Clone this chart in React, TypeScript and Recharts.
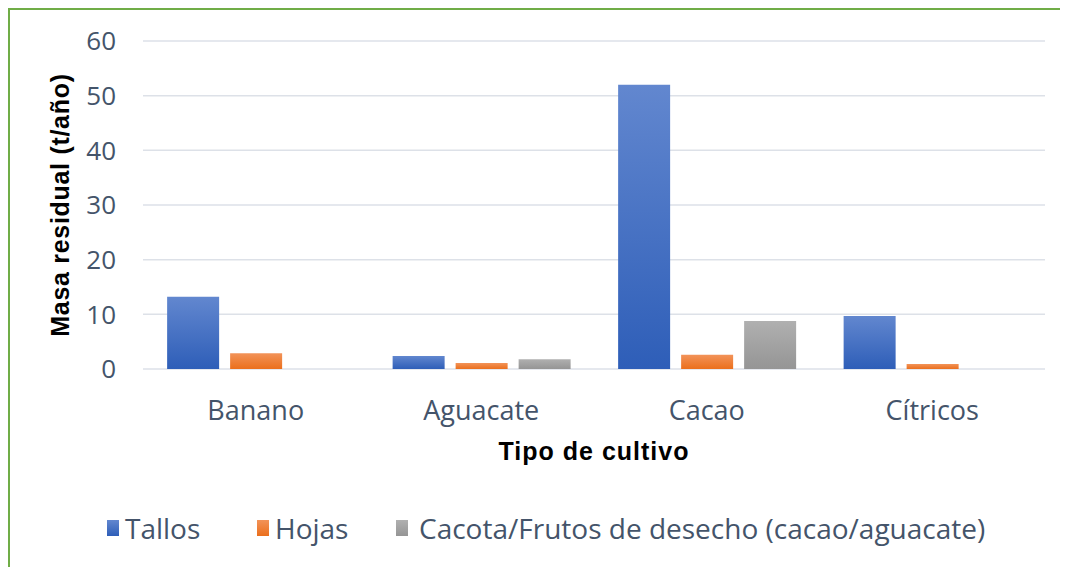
import { BarChart, Bar, XAxis, YAxis, CartesianGrid, Label } from 'recharts'

const cultivos = ['Banano', 'Aguacate', 'Cacao', 'Cítricos']
const tallos = [13.2, 2.4, 52, 9.7]
const hojas = [2.9, 1.1, 2.6, 0.9]
const cacota = [0, 1.8, 8.8, 0]
const yTicks = [0, 10, 20, 30, 40, 50, 60]

const seriesNames = ['Tallos', 'Hojas', 'Cacota/Frutos de desecho (cacao/aguacate)']

const data = cultivos.map((c, i) => ({
  name: c,
  tallos: tallos[i],
  hojas: hojas[i],
  cacota: cacota[i],
}))

const font = '"Open Sans", "Noto Sans", sans-serif'
const boldFont = 'Arial, "Liberation Sans", sans-serif'
const textColor = '#44546A'

function LegendBox() {
  const items = [
    { name: seriesNames[0], left: 97, top: '#6287CF', bottom: '#2E5EB8' },
    { name: seriesNames[1], left: 247, top: '#F29359', bottom: '#EB6F1C' },
    { name: seriesNames[2], left: 386, top: '#B0B0B0', bottom: '#959595' },
  ]
  return (
    <>
      {items.map((it, i) => (
        <div
          key={it.name}
          style={{
            position: 'absolute',
            left: it.left,
            top: 499,
            height: 38,
            display: 'flex',
            alignItems: 'center',
            fontFamily: font,
            fontSize: 28,
            color: textColor,
            whiteSpace: 'nowrap',
          }}
        >
          <span
            style={{
              display: 'inline-block',
              width: 12,
              height: 16,
              marginRight: i === 2 ? 11 : 6,
              background: `linear-gradient(${it.top}, ${it.bottom})`,
            }}
          />
          <span>{it.name}</span>
        </div>
      ))}
    </>
  )
}

export default function App() {
  return (
    <div
      style={{
        position: 'relative',
        width: 1055,
        height: 565,
        border: '2px solid #70AD47',
        boxSizing: 'border-box',
        background: '#fff',
      }}
    >
      <BarChart
        width={1048}
        height={548}
        data={data}
        margin={{ top: 31, right: 13, bottom: 99, left: 0 }}
        barCategoryGap="10.7%"
        barGap={11}
      >
        <defs>
          <linearGradient id="gBlue" x1="0" y1="0" x2="0" y2="1">
            <stop offset="0%" stopColor="#6287CF" />
            <stop offset="100%" stopColor="#2E5EB8" />
          </linearGradient>
          <linearGradient id="gOrange" x1="0" y1="0" x2="0" y2="1">
            <stop offset="0%" stopColor="#F29359" />
            <stop offset="100%" stopColor="#EB6F1C" />
          </linearGradient>
          <linearGradient id="gGray" x1="0" y1="0" x2="0" y2="1">
            <stop offset="0%" stopColor="#B0B0B0" />
            <stop offset="100%" stopColor="#959595" />
          </linearGradient>
        </defs>
        <CartesianGrid vertical={false} stroke="#DDE1E8" strokeWidth={1.5} />
        <XAxis
          dataKey="name"
          axisLine={false}
          tickLine={false}
          tickSize={0}
          tickMargin={32}
          height={90}
          tick={{ fill: textColor, fontSize: 27, fontFamily: font }}
        >
          <Label
            value="Tipo de cultivo"
            position="insideBottom"
            offset={-1}
            style={{ fontFamily: boldFont, fontWeight: 'bold', fontSize: 25, letterSpacing: 1, fill: '#000' }}
          />
        </XAxis>
        <YAxis
          width={133}
          domain={[0, 60]}
          ticks={yTicks}
          axisLine={false}
          tickLine={false}
          tickSize={0}
          tickMargin={27}
          tick={{ fill: textColor, fontSize: 26, fontFamily: font }}
        >
          <Label
            content={({ viewBox }: any) => {
              const cx = 50
              const cy = viewBox.y + viewBox.height / 2
              return (
                <text
                  x={cx}
                  y={cy}
                  transform={`rotate(-90, ${cx}, ${cy})`}
                  textAnchor="middle"
                  dominantBaseline="central"
                  style={{ fontFamily: boldFont, fontWeight: 'bold', fontSize: 25, letterSpacing: 0.7, fill: '#000' }}
                >
                  Masa residual (t/año)
                </text>
              )
            }}
          />
        </YAxis>
        <Bar dataKey="tallos" name={seriesNames[0]} fill="url(#gBlue)" isAnimationActive={false} />
        <Bar dataKey="hojas" name={seriesNames[1]} fill="url(#gOrange)" isAnimationActive={false} />
        <Bar dataKey="cacota" name={seriesNames[2]} fill="url(#gGray)" isAnimationActive={false} />
      </BarChart>
      <LegendBox />
    </div>
  )
}
